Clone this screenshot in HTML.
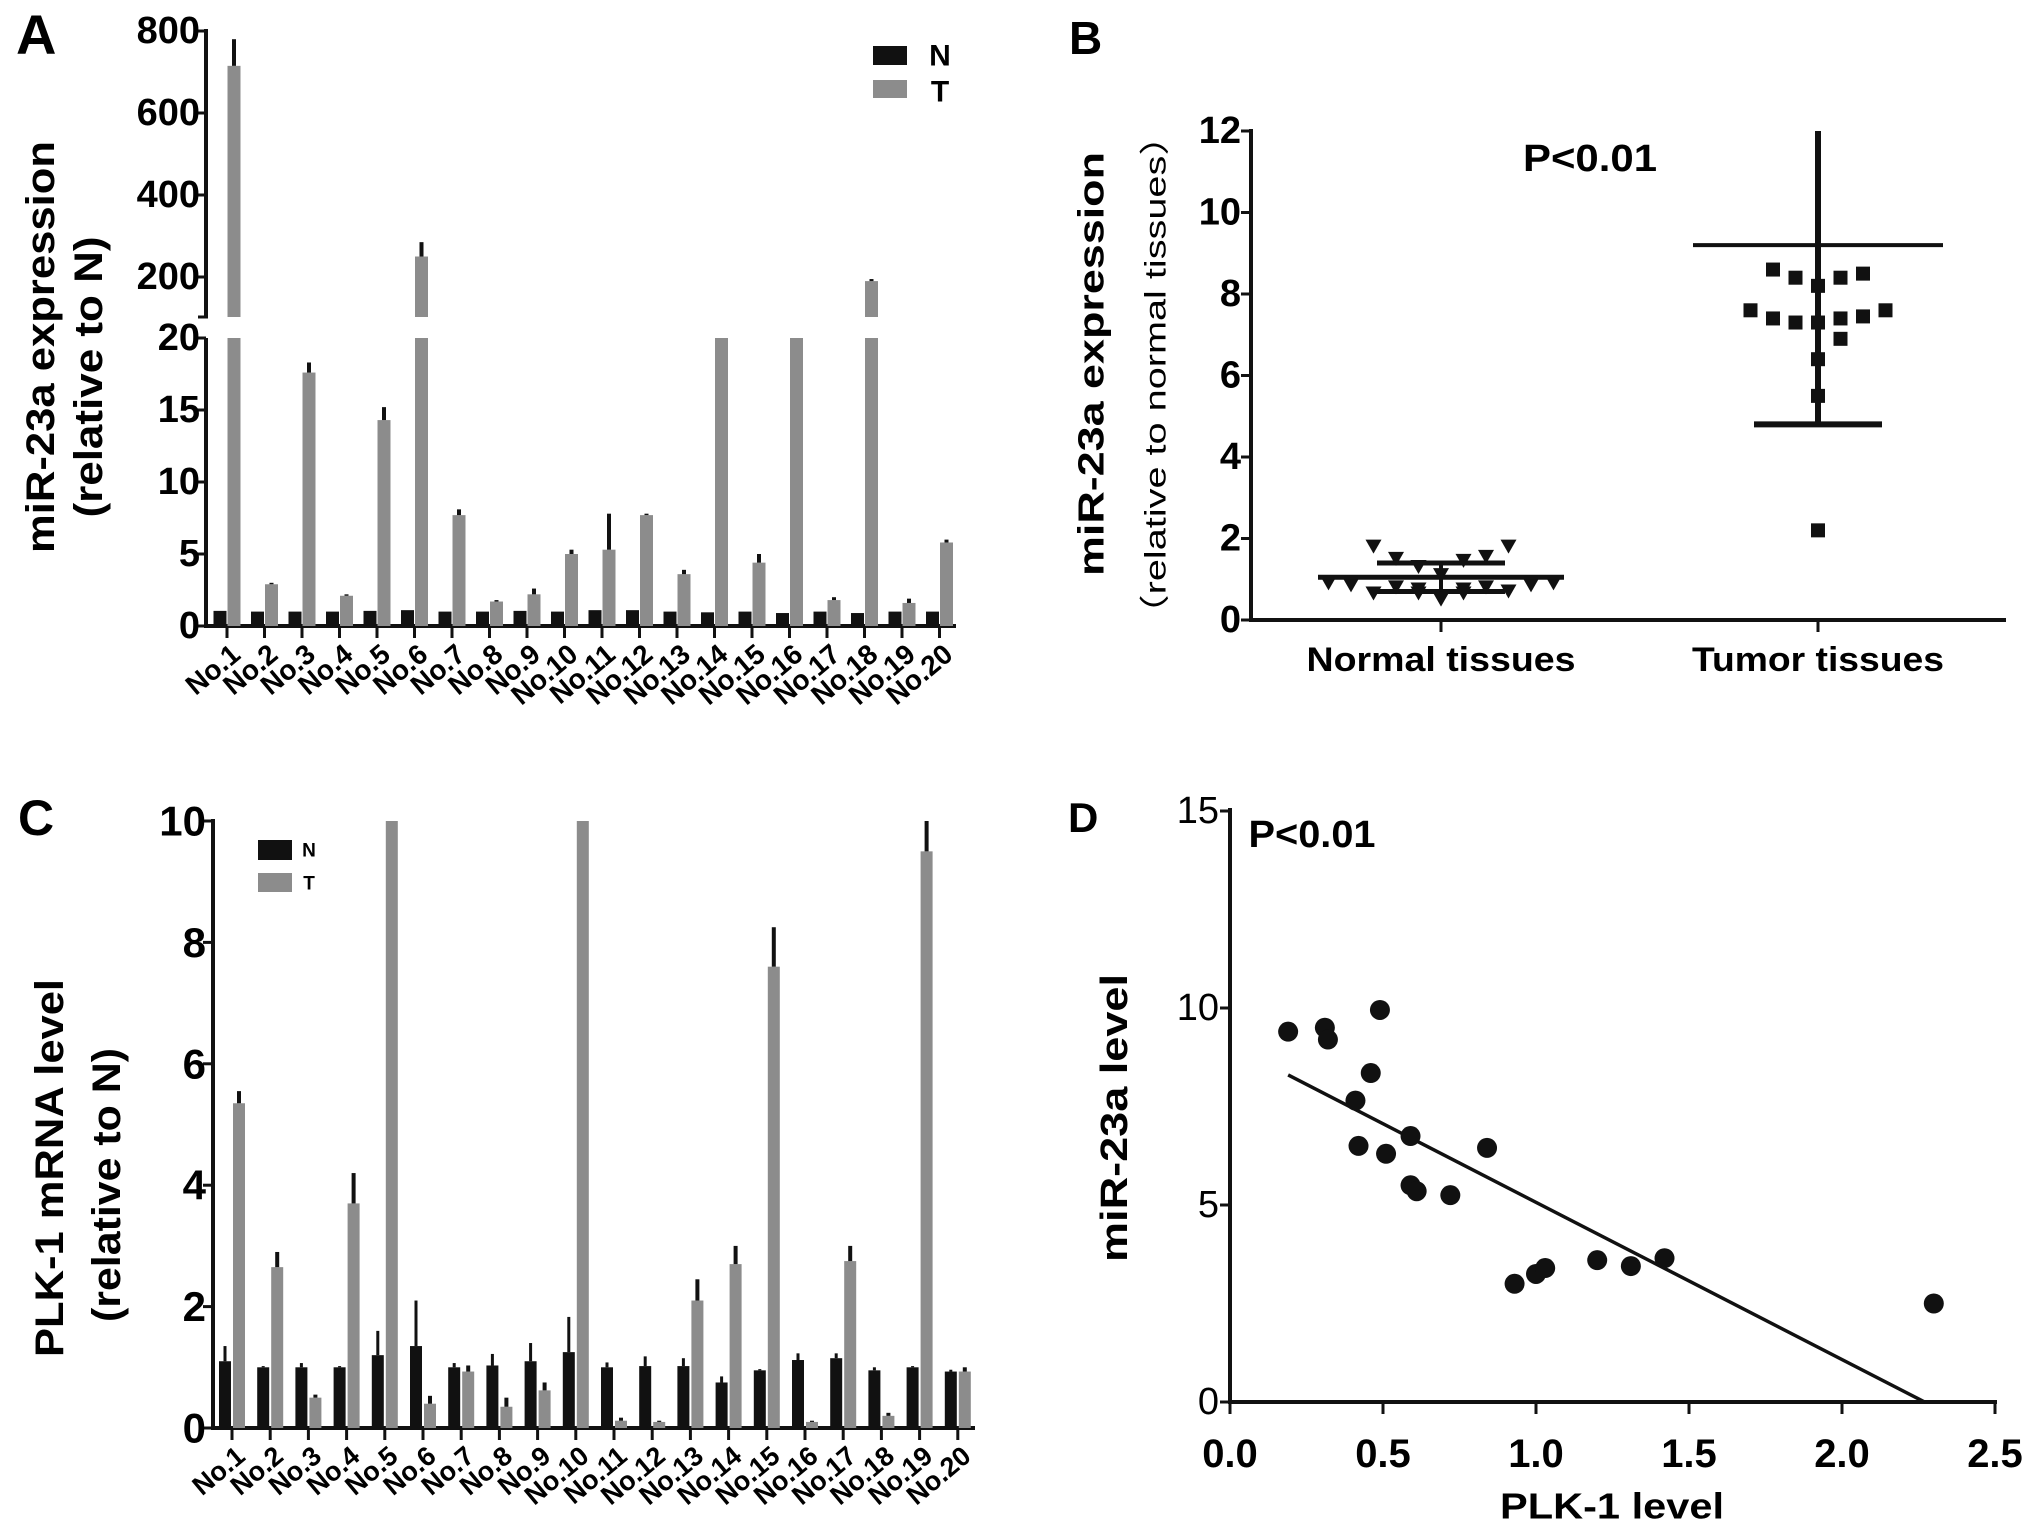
<!DOCTYPE html>
<html><head><meta charset="utf-8"><style>
html,body{margin:0;padding:0;background:#fff;}
svg{display:block;font-family:"Liberation Sans",Arial,sans-serif;}
</style></head><body>
<svg id="fig" width="2031" height="1540" viewBox="0 0 2031 1540" xmlns="http://www.w3.org/2000/svg">
<rect width="2031" height="1540" fill="#fff"/>
<text x="16" y="54" font-size="56" font-weight="bold">A</text>
<text x="1069" y="54" font-size="46" font-weight="bold">B</text>
<text x="18" y="835" font-size="50" font-weight="bold">C</text>
<text x="1068" y="832" font-size="42" font-weight="bold">D</text>
<text transform="translate(41,347) rotate(-90)" text-anchor="middle" dominant-baseline="central" font-size="40" font-weight="bold" textLength="412" lengthAdjust="spacingAndGlyphs">miR-23a expression</text>
<text transform="translate(89,377) rotate(-90)" text-anchor="middle" dominant-baseline="central" font-size="40" font-weight="bold" textLength="281" lengthAdjust="spacingAndGlyphs">(relative to N)</text>
<text transform="translate(1091,364) rotate(-90)" text-anchor="middle" dominant-baseline="central" font-size="36" font-weight="bold" textLength="424" lengthAdjust="spacingAndGlyphs">miR-23a expression</text>
<text transform="translate(1156,375) rotate(-90)" text-anchor="middle" dominant-baseline="central" font-size="30" textLength="518" lengthAdjust="spacingAndGlyphs">（relative to normal tissues）</text>
<text x="1590" y="159" text-anchor="middle" dominant-baseline="central" font-size="38" font-weight="bold" textLength="134" lengthAdjust="spacingAndGlyphs">P&lt;0.01</text>
<text transform="translate(50,1168) rotate(-90)" text-anchor="middle" dominant-baseline="central" font-size="40" font-weight="bold" textLength="378" lengthAdjust="spacingAndGlyphs">PLK-1 mRNA level</text>
<text transform="translate(107,1185) rotate(-90)" text-anchor="middle" dominant-baseline="central" font-size="40" font-weight="bold" textLength="274" lengthAdjust="spacingAndGlyphs">(relative to N)</text>
<text transform="translate(1115,1118) rotate(-90)" text-anchor="middle" dominant-baseline="central" font-size="38" font-weight="bold" textLength="288" lengthAdjust="spacingAndGlyphs">miR-23a level</text>
<text x="1612" y="1506" text-anchor="middle" dominant-baseline="central" font-size="36" font-weight="bold" textLength="224" lengthAdjust="spacingAndGlyphs">PLK-1 level</text>
<text x="1312" y="835" text-anchor="middle" dominant-baseline="central" font-size="38" font-weight="bold" textLength="127" lengthAdjust="spacingAndGlyphs">P&lt;0.01</text>
<g>
<rect x="873" y="46" width="34" height="19" fill="#111"/>
<text x="940" y="56" text-anchor="middle" dominant-baseline="central" font-size="30" font-weight="bold">N</text>
<rect x="873" y="80" width="34" height="18" fill="#8c8c8c"/>
<text x="940" y="92" text-anchor="middle" dominant-baseline="central" font-size="30" font-weight="bold">T</text>
</g>
<g>
<rect x="258" y="840" width="34" height="20" fill="#111"/>
<text x="309" y="851" text-anchor="middle" dominant-baseline="central" font-size="19" font-weight="bold">N</text>
<rect x="258" y="873" width="34" height="19" fill="#8c8c8c"/>
<text x="309" y="884" text-anchor="middle" dominant-baseline="central" font-size="19" font-weight="bold">T</text>
</g>
<g id="gA"></g>
<g id="gB"></g>
<g id="gC"></g>
<g id="gD"></g>
</svg>
<script>
const categories = ["No.1","No.2","No.3","No.4","No.5","No.6","No.7","No.8","No.9","No.10","No.11","No.12","No.13","No.14","No.15","No.16","No.17","No.18","No.19","No.20"];
const aN = [1.05,1.0,1.0,1.0,1.05,1.1,1.0,1.0,1.05,1.0,1.1,1.1,1.0,0.95,1.0,0.9,1.0,0.9,1.0,1.0];
const aT = [715,2.9,17.6,2.1,14.3,250,7.7,1.7,2.2,5.0,5.3,7.7,3.6,20,4.4,20,1.8,190,1.6,5.8];
const aTerr = [780,3.0,18.3,2.2,15.2,285,8.1,1.8,2.6,5.3,7.8,7.8,3.9,20,5.0,20,2.0,195,1.9,6.0];
const aTicksUpper = [200,400,600,800];
const aTicksLower = [0,5,10,15,20];
const cN = [1.1,1.0,1.0,1.0,1.2,1.35,1.0,1.03,1.1,1.25,1.0,1.02,1.02,0.75,0.95,1.12,1.15,0.95,1.0,0.93];
const cNerr = [1.35,1.02,1.07,1.02,1.6,2.1,1.07,1.22,1.4,1.83,1.08,1.18,1.15,0.85,0.97,1.23,1.23,1.0,1.02,0.96];
const cT = [5.35,2.65,0.5,3.7,10,0.4,0.93,0.35,0.62,10,0.12,0.1,2.1,2.7,7.6,0.1,2.75,0.2,9.5,0.93];
const cTerr = [5.55,2.9,0.55,4.2,10,0.53,1.03,0.5,0.75,10,0.17,0.12,2.45,3.0,8.25,0.12,3.0,0.25,10,1.0];
const cTicks = [0,2,4,6,8,10];
const bGroups = ["Normal tissues","Tumor tissues"];
const bNormal = [1.8,1.8,1.5,1.55,1.3,1.45,1.1,0.9,0.85,0.85,0.9,0.8,0.75,0.75,0.8,0.65,0.5,0.65,0.65,0.7];
const bNormalCol = [-3,3,-2,2,-1,1,0,-5,-4,4,5,-2,-1,1,2,-3,0,-1,1,3];
const bTumor = [8.6,8.4,8.2,8.4,8.5,7.6,7.4,7.3,7.3,7.4,7.45,7.6,6.9,6.4,5.5,2.2];
const bTumorCol = [-2,-1,0,1,2,-3,-2,-1,0,1,2,3,1,0,0,0];
const bMean = [1.05,9.2];
const bSdLow = [0.7,4.8];
const bSdHigh = [1.4,12];
const bTicks = [0,2,4,6,8,10,12];
const dX = [0.19,0.31,0.32,0.49,0.46,0.41,0.42,0.51,0.59,0.59,0.61,0.72,0.84,0.93,1.0,1.03,1.2,1.31,1.42,2.3];
const dY = [9.4,9.5,9.2,9.95,8.35,7.65,6.5,6.3,6.75,5.5,5.35,5.25,6.45,3.0,3.25,3.4,3.6,3.45,3.65,2.5];
const dFit = [[0.19,8.3],[2.27,0]];
const dTicksX = [0,0.5,1.0,1.5,2.0,2.5];
const dTicksY = [0,5,10,15];

const NS="http://www.w3.org/2000/svg";
function mk(parent, tag, attrs, name){
  const el=document.createElementNS(NS,tag);
  for(const k in attrs) el.setAttribute(k,attrs[k]);
  
  
  parent.appendChild(el); return el;
}
function line(p,x1,y1,x2,y2,w,name){return mk(p,'line',{x1,y1,x2,y2,stroke:'#111','stroke-width':w},name);}
function txt(p,x,y,s,attrs,name){const t=mk(p,'text',Object.assign({x,y,'dominant-baseline':'central'},attrs),name);t.textContent=s;return t;}

(function(){
  const g=document.getElementById('gA');
  const ax=206, x0=220, step=37.5, bw=13;
  const yU=v=>359-v*82/200, yL=v=>626-v*(288/20);
  const brkTop=317, brkBot=338;
  line(g,ax,29,ax,brkTop,4,'y-axis-upper-a');
  line(g,ax,brkBot,ax,626,4,'y-axis-lower-a');
  line(g,ax-8,brkTop,ax+2,brkTop,3,'axis-break-a');
  line(g,ax-2,626,956,626,4,'x-axis-a');
  aTicksUpper.forEach(v=>{line(g,ax-9,yU(v),ax,yU(v),3,'y-tick-a');txt(g,ax-6,yU(v),String(v),{'text-anchor':'end','font-size':38,'font-weight':'bold'},'y-tick-label-a');});
  aTicksLower.forEach(v=>{line(g,ax-9,yL(v),ax,yL(v),3,'y-tick-a');txt(g,ax-6,yL(v),String(v),{'text-anchor':'end','font-size':38,'font-weight':'bold'},'y-tick-label-a');});
  categories.forEach((c,i)=>{
    const xn=x0+i*step, xt=xn+bw+1, xc=xn+bw/2+0.5;
    mk(g,'rect',{x:xn-bw/2,y:yL(aN[i]),width:bw,height:626-yL(aN[i]),fill:'#111'},'bar-n-a');
    const lv=Math.min(aT[i],20);
    mk(g,'rect',{x:xt-bw/2,y:yL(lv),width:bw,height:626-yL(lv),fill:'#8c8c8c'},'bar-t-a');
    if(aT[i]>20){
      const top=yU(aT[i]);
      if(top<brkTop) mk(g,'rect',{x:xt-bw/2,y:top,width:bw,height:brkTop-top,fill:'#8c8c8c'},'bar-t-upper-a');
      if(aTerr[i]>aT[i]) line(g,xt,yU(aTerr[i]),xt,top,4,'error-bar-a');
    } else if(aTerr[i]>aT[i]){
      line(g,xt,yL(aTerr[i]),xt,yL(aT[i]),4,'error-bar-a');
    }
    line(g,xc,626,xc,638,3,'x-tick-a');
    txt(g,0,0,c,{'text-anchor':'end','font-size':28,'font-weight':'bold',transform:`translate(${xc+9},${650}) rotate(-40)`},'x-tick-label-a');
  });
})();

(function(){
  const g=document.getElementById('gB');
  const ax=1251, y=v=>620-v*40.75, cx=[1441,1818], col=22.5;
  line(g,ax,129,ax,622,4,'y-axis-b');
  line(g,ax-2,620,2006,620,4,'x-axis-b');
  bTicks.forEach(v=>{line(g,ax-10,y(v),ax,y(v),3,'y-tick-b');txt(g,1241,y(v),String(v),{'text-anchor':'end','font-size':38,'font-weight':'bold'},'y-tick-label-b');});
  bGroups.forEach((s,i)=>{line(g,cx[i],620,cx[i],632,3,'x-tick-b');txt(g,cx[i],660,s,{'text-anchor':'middle','font-size':34,'font-weight':'bold',textLength:i?252:269,lengthAdjust:'spacingAndGlyphs'},'x-tick-label-b');});
  bNormal.forEach((v,i)=>{const x=cx[0]+bNormalCol[i]*col, yy=y(v);
    mk(g,'polygon',{points:`${x-8},${yy-7} ${x+8},${yy-7} ${x},${yy+7}`,fill:'#111'},'point-normal-b');});
  bTumor.forEach((v,i)=>{const x=cx[1]+bTumorCol[i]*col, yy=y(v);
    mk(g,'rect',{x:x-7,y:yy-7,width:14,height:14,fill:'#111'},'point-tumor-b');});
  const mw=[123,125], sw=64;
  [0,1].forEach(i=>{
    line(g,cx[i]-mw[i],y(bMean[i]),cx[i]+mw[i],y(bMean[i]),i?4:5,'mean-line-b');
    line(g,cx[i]-sw,y(bSdLow[i]),cx[i]+sw,y(bSdLow[i]),i?6:5,'sd-low-line-b');
    line(g,cx[i]-sw,y(bSdHigh[i]),cx[i]+sw,y(bSdHigh[i]),i?0:5,'sd-high-line-b');
    line(g,cx[i],y(bSdLow[i]),cx[i],y(bSdHigh[i]),i?6:4,'sd-vertical-b');
  });
})();

(function(){
  const g=document.getElementById('gC');
  const ax=213, x0=225, step=38.2, bw=12, y=v=>1428-v*60.7;
  line(g,ax,819,ax,1430,4,'y-axis-c');
  line(g,ax-2,1428,975,1428,4,'x-axis-c');
  cTicks.forEach(v=>{line(g,ax-10,y(v),ax,y(v),3,'y-tick-c');txt(g,206,y(v),String(v),{'text-anchor':'end','font-size':42,'font-weight':'bold'},'y-tick-label-c');});
  categories.forEach((c,i)=>{
    const xn=x0+i*step, xt=xn+bw+2, xc=xn+bw/2+1;
    mk(g,'rect',{x:xn-bw/2,y:y(cN[i]),width:bw,height:1428-y(cN[i]),fill:'#111'},'bar-n-c');
    if(cNerr[i]>cN[i]) line(g,xn,y(cNerr[i]),xn,y(cN[i]),3,'error-bar-n-c');
    mk(g,'rect',{x:xt-bw/2,y:y(cT[i]),width:bw,height:1428-y(cT[i]),fill:'#8c8c8c'},'bar-t-c');
    if(cTerr[i]>cT[i]) line(g,xt,y(cTerr[i]),xt,y(cT[i]),4,'error-bar-t-c');
    line(g,xc,1428,xc,1440,3,'x-tick-c');
    txt(g,0,0,c,{'text-anchor':'end','font-size':27,'font-weight':'bold',transform:`translate(${xc+9},${1452}) rotate(-40)`},'x-tick-label-c');
  });
})();

(function(){
  const g=document.getElementById('gD');
  const x=v=>1230+v*306, y=v=>1402-v*39.4;
  line(g,1230,808,1230,1404,4,'y-axis-d');
  line(g,1228,1402,1997,1402,4,'x-axis-d');
  dTicksY.forEach(v=>{line(g,1220,y(v),1230,y(v),3,'y-tick-d');txt(g,1219,y(v),String(v),{'text-anchor':'end','font-size':38},'y-tick-label-d');});
  dTicksX.forEach(v=>{line(g,x(v),1402,x(v),1414,3,'x-tick-d');txt(g,x(v),1454,v.toFixed(1),{'text-anchor':'middle','font-size':40,'font-weight':'bold'},'x-tick-label-d');});
  line(g,x(dFit[0][0]),y(dFit[0][1]),x(dFit[1][0]),y(dFit[1][1]),3.5,'regression-line-d');
  dX.forEach((v,i)=>{mk(g,'circle',{cx:x(v),cy:y(dY[i]),r:10,fill:'#111'},'point-d');});
})();
</script>
</body></html>
